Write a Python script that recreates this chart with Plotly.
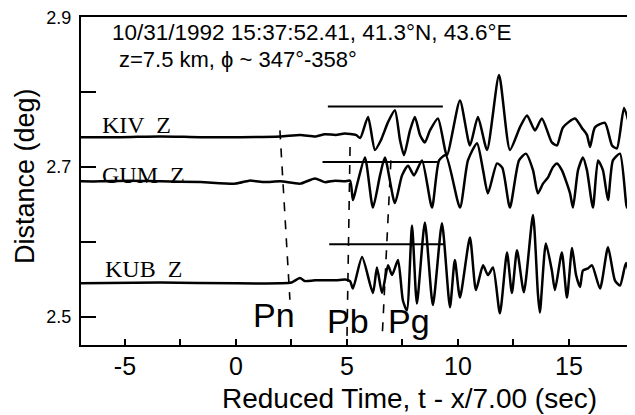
import plotly.graph_objects as go

# ---------------- data (time in s, reduced; amplitude offsets in deg) ----------------
station_names = ["KIV  Z", "GUM  Z", "KUB  Z"]
station_dist = [2.740, 2.681, 2.545]

kiv = [(-7.0, 0), (-5.2, 0), (-3.4, 0.001), (-1.6, 0), (0.2, 0), (2.0, 0.001), (2.9, 0.003),
       (3.6, 0.001), (4.0, 0.004), (4.5, 0.003), (4.9, 0.005), (5.4, 0.003), (5.6, -0.001),
       (5.95, 0.027), (6.26, -0.017), (6.53, -0.004), (6.85, 0.020), (7.16, 0.036), (7.39, -0.004),
       (7.57, -0.024), (7.84, 0.009), (8.06, 0.027), (8.29, 0.003), (8.51, -0.007), (8.74, 0.009),
       (9.10, 0.025), (9.50, -0.024), (10.09, 0.049), (10.54, -0.011), (10.90, 0.027), (11.31, -0.017),
       (11.85, 0.083), (12.34, -0.017), (12.79, 0.013), (13.11, 0.029), (13.47, 0.009), (13.78, 0.025),
       (14.23, -0.007), (14.46, -0.011), (14.73, 0.013), (15.27, 0.025), (15.59, 0.012), (15.81, 0.003),
       (15.95, -0.013), (16.17, 0.013), (16.62, 0.019), (16.94, -0.011), (17.16, -0.015), (17.48, 0.039),
       (17.75, 0.013)]

gum = [(-7.0, 0), (-6.1, 0), (-4.8, 0.001), (-3.4, 0), (-1.6, -0.001), (0.0, -0.003), (0.6, 0.001),
       (1.3, -0.001), (2.0, 0), (2.9, -0.003), (3.56, 0.004), (4.0, -0.001), (4.46, 0.001), (4.9, 0),
       (5.14, 0.001), (5.27, -0.025), (5.45, -0.005), (5.81, 0.032), (6.17, -0.035), (6.49, 0.008),
       (6.71, 0.032), (7.16, -0.029), (7.48, 0.008), (7.75, 0.021), (8.02, 0.008), (8.38, 0.028),
       (8.83, -0.035), (9.15, 0.028), (9.45, 0.035), (10.09, -0.035), (10.45, 0.028), (10.86, 0.051),
       (11.13, 0.015), (11.35, -0.016), (11.76, 0.024), (12.0, 0.018), (12.34, -0.035), (12.75, 0.028),
       (13.06, 0.037), (13.38, 0.015), (13.60, -0.016), (13.83, -0.003), (14.05, 0.005), (14.28, 0.019),
       (14.46, 0.024), (14.68, 0.015), (15.05, -0.016), (15.18, -0.035), (15.41, 0.015), (15.63, 0.032),
       (15.81, 0.015), (16.08, -0.035), (16.31, 0.028), (16.53, 0.015), (16.76, -0.025), (16.98, 0.028),
       (17.30, 0.037), (17.61, -0.035), (17.84, 0.019)]

kub = [(-7.0, 0), (-3.4, 0.001), (0.0, 0), (2.0, 0), (2.5, 0.001), (2.88, 0.007), (3.1, 0.003),
       (3.56, 0.004), (4.5, 0.004), (4.91, 0.005), (5.14, 0.003), (5.27, -0.007), (5.68, 0.035),
       (6.17, -0.013), (6.35, 0.021), (6.58, -0.013), (6.85, 0.024), (7.03, 0.011), (7.30, 0.031),
       (7.52, -0.023), (7.70, -0.036), (7.93, 0.077), (8.15, -0.027), (8.51, 0.081), (8.87, -0.029),
       (9.28, 0.080), (9.64, -0.032), (9.86, 0.031), (10.09, -0.019), (10.54, 0.061), (10.81, -0.009),
       (11.13, 0.024), (11.35, 0.011), (11.58, 0.021), (11.89, -0.040), (12.21, 0.041), (12.43, -0.013),
       (12.66, 0.044), (12.97, -0.012), (13.38, 0.091), (13.60, -0.013), (13.69, -0.039), (13.96, 0.053),
       (14.23, 0.017), (14.37, -0.009), (14.68, 0.041), (14.91, -0.019), (15.14, 0.047), (15.32, 0.011),
       (15.50, -0.005), (15.63, 0.017), (15.86, 0.020), (16.04, 0.024), (16.40, -0.007), (16.76, 0.048),
       (17.07, 0.004), (17.30, -0.003), (17.57, 0.027), (17.84, -0.005)]

# amplitude reference bars
ref_t0 = [4.14, 3.90, 4.20]
ref_t1 = [9.32, 9.10, 9.40]
ref_d = [2.781, 2.707, 2.597]

# phase picks (dashed lines)
phase_names = ["Pn", "Pb", "Pg"]
phase_t_top = [1.98, 5.14, 6.98]
phase_d_top = [2.749, 2.727, 2.709]
phase_t_bot = [2.43, 5.00, 6.58]
phase_d_bot = [2.523, 2.469, 2.469]
phase_label_t = [1.72, 5.05, 7.80]
phase_label_d = [2.503, 2.495, 2.495]

x_tickvals = [-5, -2.5, 0, 2.5, 5, 7.5, 10, 12.5, 15]
x_ticktext = ["-5", "", "0", "", "5", "", "10", "", "15"]
y_tickvals = [2.5, 2.6, 2.7, 2.8, 2.9]
y_ticktext = ["2.5", "", "2.7", "", "2.9"]

title_lines = ["10/31/1992 15:37:52.41, 41.3°N, 43.6°E", "z=7.5 km, ϕ ~ 347°-358°"]

SANS = "Liberation Sans, Arial, sans-serif"
SERIF = "Liberation Serif, Times New Roman, serif"

fig = go.Figure()

for series, base in zip([kiv, gum, kub], station_dist):
    fig.add_trace(go.Scatter(
        x=[p[0] for p in series], y=[base + p[1] for p in series],
        mode="lines", line=dict(color="black", width=2.5, shape="spline", smoothing=0.6),
        hoverinfo="skip", showlegend=False))

for t0, t1, d in zip(ref_t0, ref_t1, ref_d):
    fig.add_trace(go.Scatter(x=[t0, t1], y=[d, d], mode="lines",
                             line=dict(color="black", width=2), showlegend=False, hoverinfo="skip"))

for tt, dt, tb, db in zip(phase_t_top, phase_d_top, phase_t_bot, phase_d_bot):
    fig.add_trace(go.Scatter(x=[tt, tb], y=[dt, db], mode="lines",
                             line=dict(color="black", width=1.6, dash="dash"),
                             showlegend=False, hoverinfo="skip"))

annotations = []
label_t = [-6.13, -6.13, -5.99]
label_d = [2.756, 2.690, 2.564]
for name, t, d in zip(station_names, label_t, label_d):
    annotations.append(dict(x=t, y=d, xref="x", yref="y", text=name, showarrow=False,
                            xanchor="left", yanchor="middle",
                            font=dict(family=SERIF, size=24, color="black")))
for name, t, d in zip(phase_names, phase_label_t, phase_label_d):
    annotations.append(dict(x=t, y=d, xref="x", yref="y", text=name, showarrow=False,
                            xanchor="center", yanchor="middle",
                            font=dict(family=SANS, size=34, color="black")))
annotations.append(dict(x=-5.68, y=2.879, xref="x", yref="y", text=title_lines[0], showarrow=False,
                        xanchor="left", yanchor="middle", font=dict(family=SANS, size=22.5, color="black")))
annotations.append(dict(x=-5.36, y=2.843, xref="x", yref="y", text=title_lines[1], showarrow=False,
                        xanchor="left", yanchor="middle", font=dict(family=SANS, size=22, color="black")))
annotations.append(dict(x=0.599, y=-0.162, xref="paper", yref="paper",
                        text="Reduced Time, t - x/7.00 (sec)", showarrow=False,
                        xanchor="center", yanchor="middle", font=dict(family=SANS, size=28, color="black")))
annotations.append(dict(x=-0.102, y=0.515, xref="paper", yref="paper", text="Distance (deg)",
                        textangle=-90, showarrow=False, xanchor="center", yanchor="middle",
                        font=dict(family=SANS, size=27, color="black")))

# the page body adds an 8px offset; the figure is sized so it ends at the window edge
fig.update_layout(
    width=627, height=407,
    margin=dict(l=73, r=5, t=9, b=70, autoexpand=False),
    paper_bgcolor="white", plot_bgcolor="white",
    annotations=annotations,
    xaxis=dict(range=[-6.98, 17.75], tickvals=x_tickvals, ticktext=x_ticktext,
               ticks="inside", ticklen=6, tickwidth=2, tickcolor="black",
               showline=True, linewidth=2, linecolor="black", mirror=True,
               showgrid=False, zeroline=False, automargin=False, ticklabelstandoff=-2,
               tickfont=dict(family=SANS, size=25, color="black")),
    xaxis2=dict(range=[-6.98, 17.75], overlaying="x", anchor="y", side="bottom",
                tickvals=x_tickvals, ticks="outside", ticklen=6, tickwidth=2, tickcolor="black",
                showticklabels=False, showline=False, showgrid=False, zeroline=False,
                automargin=False),
    yaxis=dict(range=[2.4627, 2.9003], tickvals=y_tickvals, ticktext=y_ticktext,
               ticks="inside", ticklen=15, tickwidth=2, tickcolor="black",
               showline=True, linewidth=2, linecolor="black", mirror=True,
               showgrid=False, zeroline=False, ticklabelstandoff=4, automargin=False,
               ticklabeloverflow="allow",
               tickfont=dict(family=SANS, size=18, color="black")),
)

fig.write_html("out.html")
